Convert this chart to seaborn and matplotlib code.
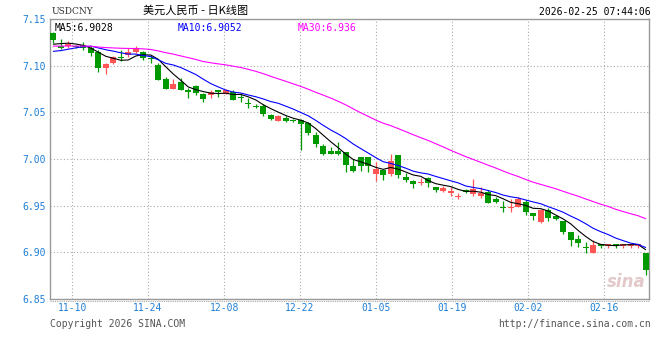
import numpy as np
import pandas as pd
import matplotlib
matplotlib.use("Agg")
import matplotlib.pyplot as plt
from matplotlib.lines import Line2D
import seaborn as sns

# --- daily candles USDCNY (open / high / low / close) ---
open_ = [7.1350, 7.1215, 7.1215, 7.1210, 7.1222, 7.1186, 7.1143, 7.0972, 7.1025, 7.1097,
         7.1115, 7.1143, 7.1143, 7.1086, 7.1008, 7.0858, 7.0750, 7.0820, 7.0740, 7.0786,
         7.0700, 7.0686, 7.0740, 7.0700, 7.0722, 7.0668, 7.0604, 7.0572, 7.0568, 7.0472,
         7.0411, 7.0443, 7.0418, 7.0418, 7.0383, 7.0258, 7.0140, 7.0086, 7.0083, 7.0079,
         6.9925, 7.0018, 7.0018, 6.9840, 6.9882, 6.9840, 7.0043, 6.9811, 6.9765, 6.9745,
         6.9793, 6.9704, 6.9657, 6.9633, 6.9590, 6.9668, 6.9622, 6.9604, 6.9650, 6.9568,
         6.9490, 6.9472, 6.9490, 6.9543, 6.9425, 6.9330, 6.9454, 6.9390, 6.9336, 6.9215,
         6.9143, 6.9058, 6.8990, 6.9086, 6.9072, 6.9086, 6.9068, 6.9068, 6.9068, 6.8990]
high = [7.1365, 7.1285, 7.1265, 7.1225, 7.1258, 7.1215, 7.1168, 7.1025, 7.1108, 7.1168,
        7.1186, 7.1211, 7.1157, 7.1115, 7.1025, 7.0883, 7.0858, 7.0865, 7.0758, 7.0793,
        7.0705, 7.0740, 7.0740, 7.0750, 7.0740, 7.0704, 7.0650, 7.0590, 7.0590, 7.0483,
        7.0468, 7.0457, 7.0429, 7.0429, 7.0393, 7.0286, 7.0161, 7.0133, 7.0186, 7.0079,
        7.0000, 7.0018, 7.0018, 6.9972, 6.9882, 7.0054, 7.0043, 6.9847, 6.9775, 6.9793,
        6.9810, 6.9704, 6.9715, 6.9697, 6.9632, 6.9675, 6.9786, 6.9697, 6.9668, 6.9590,
        6.9554, 6.9568, 6.9590, 6.9560, 6.9425, 6.9460, 6.9470, 6.9400, 6.9336, 6.9222,
        6.9186, 6.9108, 6.9133, 6.9086, 6.9093, 6.9086, 6.9093, 6.9090, 6.9093, 6.8990]
low = [7.1240, 7.1180, 7.1193, 7.1185, 7.1168, 7.1108, 7.0936, 7.0908, 7.1015, 7.1050,
       7.1097, 7.1133, 7.1058, 7.1025, 7.0847, 7.0750, 7.0750, 7.0740, 7.0658, 7.0686,
       7.0614, 7.0658, 7.0668, 7.0697, 7.0632, 7.0608, 7.0550, 7.0543, 7.0465, 7.0418,
       7.0411, 7.0400, 7.0400, 7.0097, 7.0261, 7.0125, 7.0043, 7.0054, 7.0043, 6.9865,
       6.9865, 6.9875, 6.9860, 6.9768, 6.9775, 6.9822, 6.9800, 6.9757, 6.9693, 6.9722,
       6.9704, 6.9650, 6.9643, 6.9604, 6.9568, 6.9632, 6.9604, 6.9580, 6.9533, 6.9525,
       6.9436, 6.9436, 6.9482, 6.9400, 6.9347, 6.9311, 6.9340, 6.9347, 6.9197, 6.9068,
       6.9061, 6.8990, 6.8990, 6.9043, 6.9043, 6.9043, 6.9043, 6.9043, 6.9043, 6.8758]
close = [7.1280, 7.1193, 7.1232, 7.1195, 7.1186, 7.1133, 7.0972, 7.1015, 7.1090, 7.1079,
         7.1150, 7.1186, 7.1079, 7.1075, 7.0847, 7.0750, 7.0800, 7.0740, 7.0722, 7.0704,
         7.0645, 7.0715, 7.0722, 7.0740, 7.0633, 7.0650, 7.0586, 7.0554, 7.0483, 7.0425,
         7.0461, 7.0408, 7.0408, 7.0375, 7.0275, 7.0161, 7.0054, 7.0058, 7.0054, 6.9936,
         6.9873, 6.9925, 6.9925, 6.9893, 6.9829, 6.9975, 6.9833, 6.9775, 6.9732, 6.9757,
         6.9747, 6.9668, 6.9693, 6.9657, 6.9604, 6.9643, 6.9679, 6.9640, 6.9533, 6.9543,
         6.9472, 6.9490, 6.9568, 6.9436, 6.9393, 6.9454, 6.9365, 6.9354, 6.9222, 6.9133,
         6.9097, 6.9046, 6.9079, 6.9072, 6.9086, 6.9075, 6.9090, 6.9085, 6.9084, 6.8806]
# closes of the sessions before the first candle (only feed the moving averages)
prev_close = [7.122, 7.119, 7.121, 7.118, 7.120, 7.122, 7.119, 7.121, 7.118, 7.120,
              7.122, 7.119, 7.128, 7.131, 7.130, 7.128, 7.131, 7.129, 7.128, 7.130,
              7.112, 7.108, 7.105, 7.106, 7.108, 7.116, 7.121, 7.124, 7.126]

tick_pos = [2.5, 12.6, 22.8, 32.9, 43.1, 53.2, 63.3, 73.5]
tick_labels = ["11-10", "11-24", "12-08", "12-22", "01-05", "01-19", "02-02", "02-16"]
y_ticks = [6.85, 6.90, 6.95, 7.00, 7.05, 7.10, 7.15]
ma_labels = ["MA5:6.9028", "MA10:6.9052", "MA30:6.936"]

UP = "#ff5555"
DOWN = "#009900"
TICK_BLUE = "#1f7fd6"
MA_COLORS = {"MA5": "black", "MA10": "#0000ff", "MA30": "#ff00ff"}

# --- data frame + moving averages ---
n = len(close)
df = pd.DataFrame({"x": np.arange(n), "open": open_, "high": high,
                   "low": low, "close": close})
all_close = pd.Series(prev_close + close)
k = len(prev_close)
for w in (5, 10, 30):
    df[f"MA{w}"] = all_close.rolling(w).mean().iloc[k:].values

sns.set_theme(style="white")
plt.rcParams["font.family"] = ["DejaVu Sans Mono", "Noto Sans CJK SC"]

fig = plt.figure(figsize=(6.6, 3.6), dpi=100)
ax = fig.add_axes([50 / 660, 1 - 299 / 360, 599 / 660, 280 / 360])

# candles: wick + body, red = up, green = down
up = df["close"] >= df["open"]
colors = np.where(up, UP, DOWN)
ax.vlines(df["x"], df["low"], df["high"], colors=colors, linewidth=0.9, zorder=3)
body_lo = np.minimum(df["open"], df["close"])
body_h = np.maximum(np.abs(df["close"] - df["open"]), 0.0006)
ax.bar(df["x"], body_h, bottom=body_lo, width=0.8, color=colors,
       linewidth=0, zorder=4)

# moving averages
ma = df.melt(id_vars="x", value_vars=["MA5", "MA10", "MA30"],
             var_name="ma", value_name="v")
sns.lineplot(data=ma, x="x", y="v", hue="ma", ax=ax, legend=False,
             palette=MA_COLORS, linewidth=0.8, zorder=5)

ax.set_xlim(-0.45, n - 0.55)
ax.set_ylim(6.85, 7.15)
ax.set_yticks(y_ticks)
ax.set_yticklabels([f"{v:.2f}" for v in y_ticks], color=TICK_BLUE, fontsize=7)
ax.set_xticks(tick_pos)
ax.set_xticklabels(tick_labels, color=TICK_BLUE, fontsize=7)
ax.tick_params(length=0, pad=3)
ax.set_xlabel("")
ax.set_ylabel("")
ax.grid(True, linestyle=(0, (1, 2)), color="#aaaaaa", linewidth=0.8)
for s in ax.spines.values():
    s.set_color("#999999")
    s.set_linewidth(1.0)

# legend row inside the top of the plot
for xpos, txt, col in zip([0.007, 0.213, 0.413], ma_labels, MA_COLORS.values()):
    ax.text(xpos, 0.985, txt, transform=ax.transAxes, ha="left", va="top",
            fontsize=7, color=col)

# header
fig.text(52 / 660, 1 - 12 / 360, "USDCNY", ha="left", va="center",
         fontsize=6.5, family="DejaVu Serif", color="#333333")
fig.text(143 / 660, 1 - 11 / 360, "美元人民币 - 日K线图", ha="left", va="center",
         fontsize=8, family=["Noto Sans CJK SC", "DejaVu Sans"], color="black")
fig.text(651 / 660, 1 - 12 / 360, "2026-02-25 07:44:06", ha="right",
         va="center", fontsize=7, color="black")

# footer
fig.add_artist(Line2D([50 / 660, 650 / 660], [1 - 301 / 360] * 2,
                      linestyle=(0, (1, 1)), color="#aaaaaa", linewidth=0.8))
fig.text(50 / 660, 1 - 324 / 360, "Copyright 2026 SINA.COM", ha="left",
         va="center", fontsize=7, color="#555555")
fig.text(651 / 660, 1 - 324 / 360, "http://finance.sina.com.cn", ha="right",
         va="center", fontsize=7, color="#555555")
ax.text(0.995, 0.03, "sina", transform=ax.transAxes, ha="right", va="bottom",
        fontsize=12, fontstyle="italic", fontweight="bold",
        family="DejaVu Sans", color="#e3c9c9", zorder=1)

fig.savefig("out.png", dpi=100)
